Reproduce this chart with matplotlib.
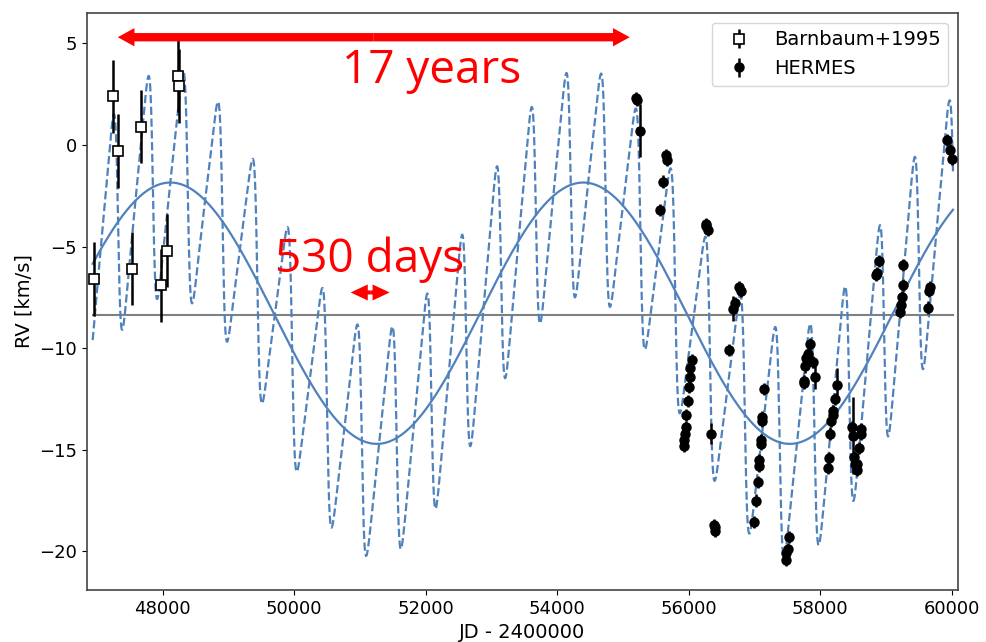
import numpy as np
import matplotlib
matplotlib.use('Agg')
import matplotlib.pyplot as plt

# Barnbaum+1995 radial velocities (JD - 2400000, km/s)
barn_jd = [46951, 47240, 47326, 47539, 47676, 47974, 48061, 48239, 48248]
barn_rv = [-6.6, 2.4, -0.3, -6.1, 0.9, -6.9, -5.2, 3.4, 2.9]
barn_err = [1.8, 1.8, 1.8, 1.8, 1.8, 1.8, 1.8, 1.8, 1.8]

# HERMES radial velocities
herm_jd = [55205, 55220, 55255, 55570, 55610, 55661, 55665,
           55924, 55929, 55939, 55955, 55965, 55985, 56000, 56015, 56026, 56051,
           56259, 56270, 56294, 56345, 56391, 56396, 56400, 56613,
           56674, 56700, 56765, 56801,
           56988, 57029, 57054, 57069, 57072, 57100, 57105, 57115, 57121, 57146,
           57476, 57487, 57511, 57526,
           57749, 57752, 57765, 57790, 57815, 57841, 57891, 57917,
           58119, 58130, 58155, 58170, 58195, 58200, 58221, 58256,
           58484, 58500, 58510, 58525, 58560, 58565, 58591, 58617, 58620,
           58849, 58860, 58900,
           59221, 59236, 59241, 59256, 59266,
           59643, 59648, 59670, 59933, 59974, 59999]
herm_rv = [2.3, 2.2, 0.7, -3.2, -1.8, -0.5, -0.75,
           -14.8, -14.5, -14.2, -13.9, -13.3, -12.6, -11.9, -11.4, -11.0, -10.6,
           -3.9, -4.0, -4.2, -14.2, -18.7, -19.0, -18.8, -10.1,
           -8.05, -7.8, -7.0, -7.2,
           -18.55, -17.5, -16.6, -15.5, -15.8, -14.5, -14.7, -13.6, -13.4, -12.0,
           -20.4, -20.1, -19.9, -19.3,
           -11.6, -11.7, -10.9, -10.5, -10.3, -9.8, -10.7, -11.4,
           -15.9, -15.4, -14.2, -13.6, -13.1, -13.3, -12.5, -11.8,
           -13.9, -14.3, -15.35, -15.7, -15.7, -16.0, -14.9, -14.0, -14.2,
           -6.4, -6.3, -5.7,
           -8.2, -7.9, -7.5, -6.9, -5.9,
           -8.0, -7.2, -7.0, 0.25, -0.25, -0.7]
herm_err = [0.3, 0.3, 1.3, 0.3, 0.3, 0.3, 0.3,
            0.3, 0.3, 0.3, 0.3, 0.3, 0.3, 0.3, 0.3, 0.3, 0.3,
            0.3, 0.3, 0.3, 0.5, 0.3, 0.3, 0.3, 0.3,
            0.6, 0.3, 0.3, 0.3,
            0.3, 0.3, 0.3, 0.3, 0.3, 0.3, 0.3, 0.3, 0.3, 0.3,
            0.3, 0.3, 0.3, 0.3,
            0.3, 0.3, 0.3, 0.3, 0.3, 0.3, 0.3, 0.6,
            0.3, 0.3, 0.3, 0.3, 0.3, 0.3, 0.3, 0.8,
            0.3, 1.9, 0.3, 0.3, 0.3, 0.3, 0.3, 0.3, 0.3,
            0.3, 0.3, 0.3,
            0.3, 0.3, 0.3, 0.3, 0.3,
            0.3, 0.3, 0.3, 0.3, 0.3, 0.3]

# orbit parameters
gamma = -8.28
systemic_line = -8.38
long_period = 6280.0
long_k = 6.43
long_tmax = 48117.0
short_period = 529.6
short_k = 5.6
short_ecc = 0.41
short_omega = 90.0
short_tperi = 48380.0
model_start, model_end = 46935, 60020

blue = '#4f81bd'


def kepler_rv(t, period, k, ecc, omega, t_peri):
    """
    Radial velocity of a keplerian orbit
    """
    mean_anom = 2 * np.pi * (t - t_peri) / period
    ecc_anom = mean_anom.copy()
    for _ in range(60):
        ecc_anom = ecc_anom - (ecc_anom - ecc * np.sin(ecc_anom) - mean_anom) / (1 - ecc * np.cos(ecc_anom))
    nu = 2 * np.arctan2(np.sqrt(1 + ecc) * np.sin(ecc_anom / 2), np.sqrt(1 - ecc) * np.cos(ecc_anom / 2))
    w = np.radians(omega)
    return k * (np.cos(nu + w) + ecc * np.cos(w))


t = np.linspace(model_start, model_end, 8000)
rv_long = gamma + long_k * np.cos(2 * np.pi * (t - long_tmax) / long_period)
rv_total = rv_long + kepler_rv(t, short_period, short_k, short_ecc, short_omega, short_tperi)

fig, ax = plt.subplots(figsize=(9.86, 6.42), dpi=100)
fig.subplots_adjust(left=0.088, right=0.9716, top=0.98, bottom=0.081)

ax.plot([model_start, model_end], [systemic_line, systemic_line], color='gray', lw=1.5, zorder=1)
ax.plot(t, rv_total, '--', color=blue, lw=1.6, zorder=2)
ax.plot(t, rv_long, '-', color=blue, lw=1.6, zorder=2)

ax.errorbar(barn_jd, barn_rv, yerr=barn_err, fmt='s', mfc='white', mec='black', mew=1.2,
            ms=6.5, ecolor='black', elinewidth=1.8, label='Barnbaum+1995', zorder=4)
ax.errorbar(herm_jd, herm_rv, yerr=herm_err, fmt='o', color='black', ms=6.5,
            elinewidth=1.8, label='HERMES', zorder=5)

# annotations
ax.arrow(51210, 5.3, -3894, 0, width=0.41, head_width=0.9, head_length=254,
         length_includes_head=True, color='red', lw=0, zorder=6)
ax.arrow(51210, 5.3, 3893, 0, width=0.41, head_width=0.9, head_length=254,
         length_includes_head=True, color='red', lw=0, zorder=6)
ax.arrow(51155, -7.26, -296, 0, width=0.2, head_width=0.79, head_length=260,
         length_includes_head=True, color='red', lw=0, zorder=6)
ax.arrow(51155, -7.26, 297, 0, width=0.2, head_width=0.79, head_length=260,
         length_includes_head=True, color='red', lw=0, zorder=6)
ax.text(52087, 3.04, '17 years', color='red', fontsize=33, family='Open Sans',
        ha='center', va='baseline', zorder=6)
ax.text(51148, -6.24, '530 days', color='red', fontsize=33, family='Open Sans',
        ha='center', va='baseline', zorder=6)

ax.set_xlim(46845, 60096)
ax.set_ylim(-21.9, 6.5)
ax.set_xticks([48000, 50000, 52000, 54000, 56000, 58000, 60000])
ax.set_yticks([5, 0, -5, -10, -15, -20])
ax.tick_params(labelsize=13)
for s in ax.spines.values():
    s.set_color('#444444')
    s.set_linewidth(1.2)
ax.set_xlabel('JD - 2400000', fontsize=14)
ax.set_ylabel('RV [km/s]', fontsize=14)
ax.legend(loc='upper right', fontsize=14)

plt.savefig('out.png', dpi=100)
